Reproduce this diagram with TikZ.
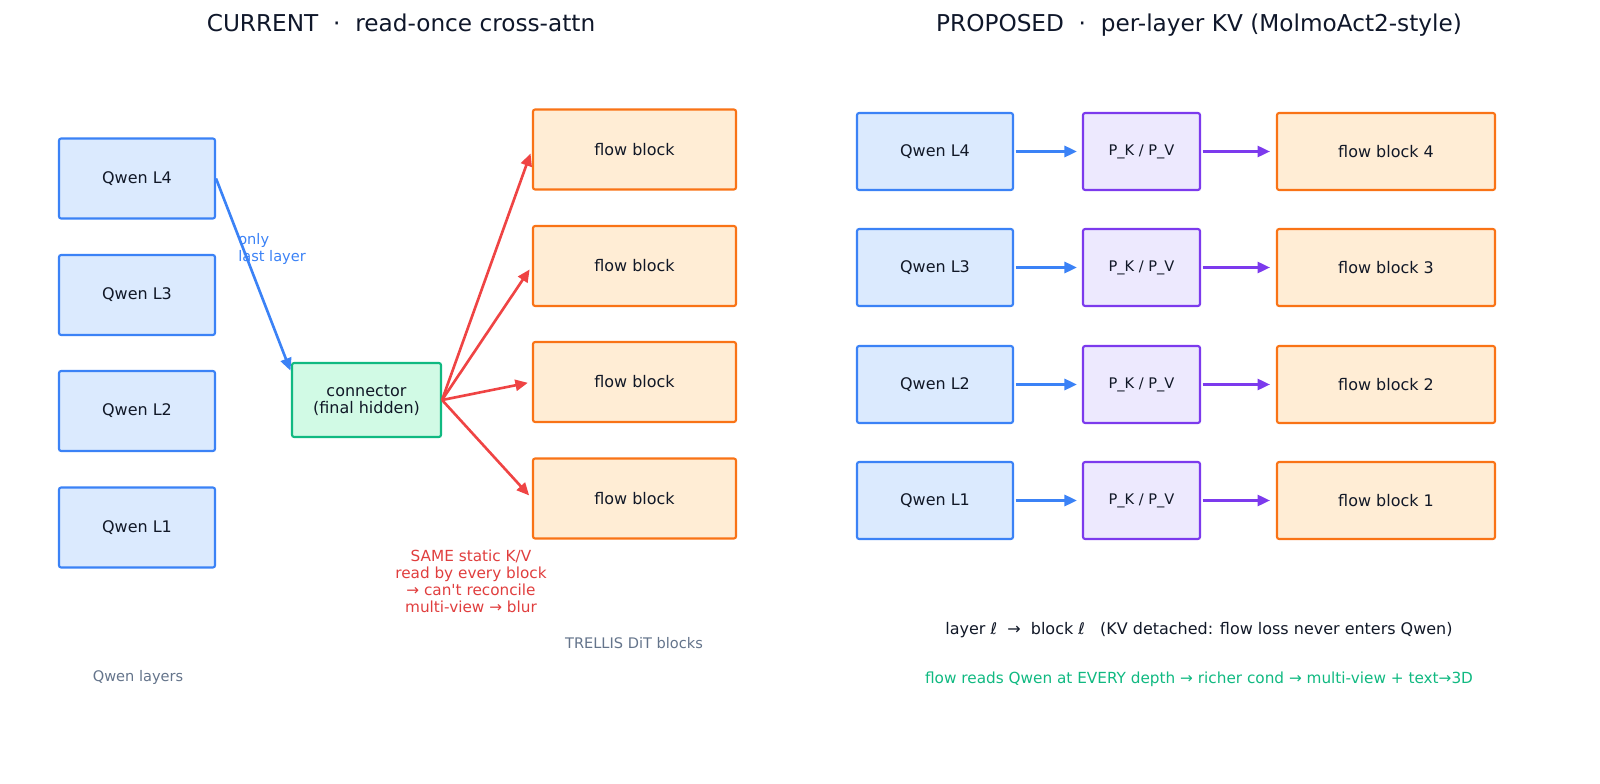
\documentclass[tikz,border=0pt]{standalone}
\usepackage{fontspec}
\setmainfont[Ligatures=TeXOff]{DejaVu Sans}
\usetikzlibrary{arrows.meta,calc}
\definecolor{blueE}{HTML}{3B82F6}
\definecolor{blueF}{HTML}{DBEAFE}
\definecolor{greenE}{HTML}{10B981}
\definecolor{greenF}{HTML}{D1FAE5}
\definecolor{orangeE}{HTML}{F97316}
\definecolor{orangeF}{HTML}{FFEDD5}
\definecolor{purpleE}{HTML}{7C3AED}
\definecolor{purpleF}{HTML}{EDE9FE}
\definecolor{redA}{HTML}{EF4444}
\definecolor{redT}{HTML}{E03E3E}
\definecolor{grayT}{HTML}{64748B}
\definecolor{darkT}{HTML}{0F172A}
\definecolor{txt}{HTML}{111827}
\begin{document}
\begin{tikzpicture}[x=0.72pt,y=-0.72pt,
  box/.style={draw, rounded corners=1.5pt, line width=1.5pt, inner sep=0pt,
    font=\fontsize{11.5}{14}\selectfont, text=txt, align=center},
  qwen/.style={box, draw=blueE, fill=blueF, minimum width=156*0.72pt, minimum height=80*0.72pt},
  qwenr/.style={box, draw=blueE, fill=blueF, minimum width=156*0.72pt, minimum height=77*0.72pt},
  flowl/.style={box, draw=orangeE, fill=orangeF, minimum width=203*0.72pt, minimum height=80*0.72pt},
  flowr/.style={box, draw=orangeE, fill=orangeF, minimum width=218*0.72pt, minimum height=77*0.72pt},
  pkbox/.style={box, draw=purpleE, fill=purpleF, minimum width=117*0.72pt, minimum height=77*0.72pt,
    font=\fontsize{10.5}{13}\selectfont},
  connbox/.style={box, draw=greenE, fill=greenF, minimum width=149*0.72pt, minimum height=74*0.72pt,
    font=\fontsize{11.5}{12.3}\selectfont},
  arr/.style={line width=1.9pt, -{Triangle[length=9pt,width=8pt]}},
  barrow/.style={arr, draw=blueE, fill=blueE},
  rarrow/.style={arr, draw=redA, fill=redA},
  parrow/.style={arr, draw=purpleE, fill=purpleE},
  title/.style={font=\fontsize{16.7}{20}\selectfont, text=darkT, anchor=base, inner sep=0pt},
  small/.style={font=\fontsize{10.5}{12}\selectfont, inner sep=0pt}
]
\useasboundingbox (0,0) rectangle (1600,784);

% titles
\node[title] (t1) at (401,31.5) {CURRENT\ \ ·\ \ read-once cross-attn};
\node[title] (t2) at (1199,31.5) {PROPOSED\ \ ·\ \ per-layer KV (MolmoAct2-style)};

% left: Qwen layers
\node[qwen] (q4) at (137,178.5) {Qwen L4};
\node[qwen] (q3) at (137,295) {Qwen L3};
\node[qwen] (q2) at (137,411) {Qwen L2};
\node[qwen] (q1) at (137,527.5) {Qwen L1};
\node[small, text=grayT] (ql) at (138,677.5) {Qwen layers};

% connector
\node[connbox] (conn) at (366.5,400) {connector\\(final hidden)};

% left flow blocks
\node[flowl] (lfa) at (634.5,149.5) {flow block};
\node[flowl] (lfb) at (634.5,266) {flow block};
\node[flowl] (lfc) at (634.5,382) {flow block};
\node[flowl] (lfd) at (634.5,498.5) {flow block};
\node[small, text=grayT] (tl) at (634,643.5) {TRELLIS DiT blocks};

% left arrows
\coordinate (ctip) at ($(conn.north west)+(0,10)$);
\draw[barrow, shorten >=1pt] (q4.east) -- (ctip);
\node[small, text=blueE, anchor=west, align=left] (only) at (238,249) {only\\last layer};
\draw[rarrow, shorten >=3pt] (conn.east) -- (lfa.west);
\draw[rarrow, shorten >=3pt] (conn.east) -- (lfb.west);
\draw[rarrow, shorten >=3pt] (conn.east) -- (lfc.west);
\draw[rarrow, shorten >=3pt] (conn.east) -- (lfd.west);

\node[small, text=redT, align=center, font=\fontsize{11}{12.2}\selectfont] (same) at (471,581.5)
  {SAME static K/V\\read by every block\\→ can't reconcile\\multi-view → blur};

% right side
\foreach \n/\y in {4/151.5,3/267.5,2/384.5,1/500.5}{
  \node[qwenr] (rq\n) at (935,\y) {Qwen L\n};
  \node[pkbox] (pk\n) at (1141.5,\y) {P\_K / P\_V};
  \node[flowr] (rf\n) at (1386,\y) {flow block \n};
  \draw[barrow, shorten <=1.2pt, shorten >=3.6pt] (rq\n.east) -- (pk\n.west);
  \draw[parrow, shorten <=1.2pt, shorten >=4.3pt] (pk\n.east) -- (rf\n.west);
}

\node[font=\fontsize{11.5}{14}\selectfont, text=txt, inner sep=0pt] (map) at (1199,630)
  {layer ℓ\ \ →\ \ block ℓ\ \ \ (KV detached: flow loss never enters Qwen)};
\node[small, text=greenE, font=\fontsize{11}{12}\selectfont] (gain) at (1199,679.5)
  {flow reads Qwen at EVERY depth → richer cond → multi-view + text→3D};
\end{tikzpicture}
\end{document}
